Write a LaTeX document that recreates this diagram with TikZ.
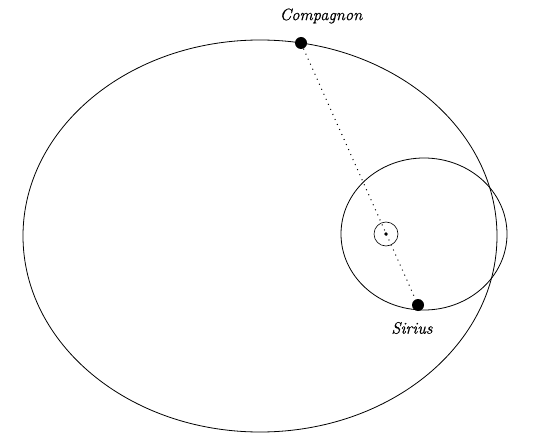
\documentclass[tikz,border=0pt]{standalone}
\usepackage{fontspec}
\setmainfont{Latin Modern Roman}[ItalicFeatures={FakeBold=0.6}]
\begin{document}
\begin{tikzpicture}[x=1pt,y=-1pt,
  orbit/.style={draw=black,line width=0.8pt},
  star/.style={circle,fill=black,inner sep=0pt,minimum size=12pt},
  lbl/.style={font=\fontsize{16.5}{19}\selectfont\itshape}]
\useasboundingbox (0,0) rectangle (543,433);
\draw[orbit] (260,236) ellipse [x radius=237, y radius=196];
\draw[orbit] (424,234) ellipse [x radius=83, y radius=76];
\node[draw,circle,line width=0.6pt,minimum size=24pt,inner sep=0pt] (cm) at (386,234) {};
\fill (386,234) circle (1.8);
\node[star] (comp) at (301,43) {};
\node[star] (sir) at (418,305) {};
\draw[line width=1pt,dash pattern=on 1pt off 4.5pt] (comp) -- (sir);
\node[lbl] (lc) at (321,16) {Compagnon};
\node[lbl] (ls) at (412,328) {Sirius};
\end{tikzpicture}
\end{document}
